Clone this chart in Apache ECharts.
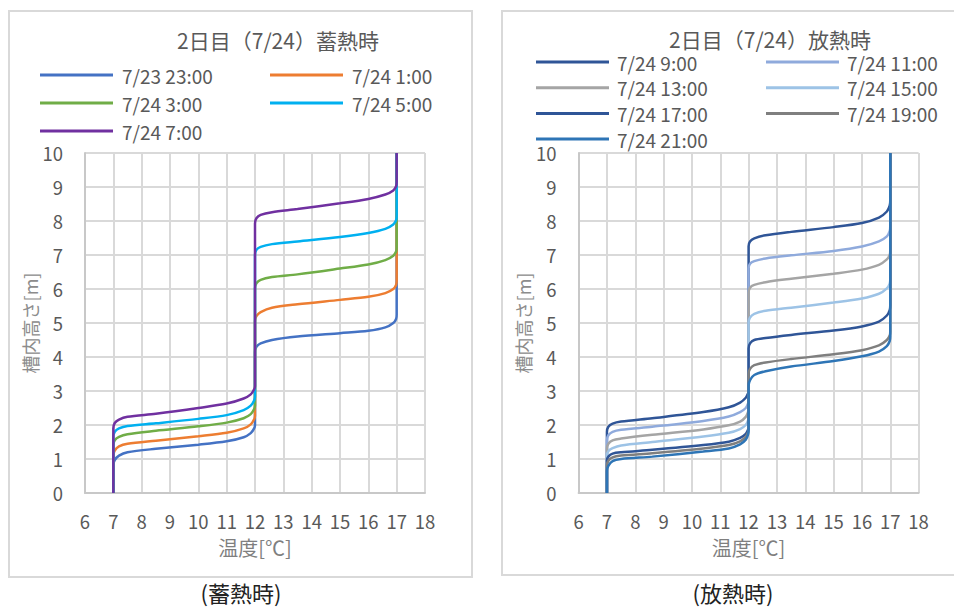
<!DOCTYPE html>
<html><head><meta charset="utf-8">
<script src="https://cdn.jsdelivr.net/npm/echarts@6/dist/echarts.min.js"></script>
<style>html,body{margin:0;padding:0;background:#fff}#c{width:954px;height:608px}</style>
</head><body><div id="c"></div>
<script>
// ---- data ----
const xTicks = [6,7,8,9,10,11,12,13,14,15,16,17,18];
const yTicks = [0,1,2,3,4,5,6,7,8,9,10];
const leftTitle = '2日目（7/24）蓄熱時';
const rightTitle = '2日目（7/24）放熱時';
const leftCaption = '(蓄熱時)';
const rightCaption = '(放熱時)';
const xName = '温度[℃]';
const yName = '槽内高さ[m]';

const chargeNames = ['7/23 23:00','7/24 1:00','7/24 3:00','7/24 5:00','7/24 7:00'];
const c2300 = [[7,0],[7,0.82],[7.05,0.97],[7.2,1.1],[7.5,1.2],[8.5,1.3],[10,1.42],[11,1.52],[11.6,1.64],[11.85,1.76],[11.97,1.9],[12,2.0],[12,4.15],[12.05,4.3],[12.2,4.4],[12.6,4.5],[13.5,4.6],[15,4.7],[16,4.77],[16.6,4.87],[16.88,5.0],[16.98,5.12],[17,5.25],[17,10]];
const c0100 = [[7,0],[7,1.1],[7.05,1.25],[7.2,1.37],[7.5,1.45],[8.5,1.54],[10,1.67],[11,1.77],[11.6,1.9],[11.85,2.02],[11.97,2.17],[12,2.28],[12,5.05],[12.05,5.2],[12.2,5.32],[12.6,5.45],[13.5,5.55],[15,5.68],[16,5.77],[16.6,5.88],[16.88,6.0],[16.98,6.12],[17,6.25],[17,10]];
const c0300 = [[7,0],[7,1.4],[7.05,1.55],[7.2,1.65],[7.5,1.73],[8.5,1.83],[10,1.96],[11,2.07],[11.6,2.2],[11.85,2.32],[11.97,2.47],[12,2.58],[12,6.02],[12.05,6.17],[12.2,6.27],[12.6,6.35],[13.5,6.43],[15,6.6],[16,6.72],[16.6,6.85],[16.88,6.98],[16.98,7.1],[17,7.22],[17,10]];
const c0500 = [[7,0],[7,1.65],[7.05,1.8],[7.2,1.9],[7.5,1.97],[8.5,2.05],[10,2.18],[11,2.29],[11.6,2.44],[11.85,2.57],[11.97,2.72],[12,2.85],[12,7.0],[12.05,7.15],[12.2,7.24],[12.6,7.32],[13.5,7.4],[15,7.53],[16,7.65],[16.6,7.77],[16.88,7.9],[16.98,8.02],[17,8.15],[17,10]];
const c0700 = [[7,0],[7,1.9],[7.05,2.06],[7.2,2.16],[7.5,2.24],[8.5,2.33],[10,2.5],[11,2.63],[11.6,2.78],[11.85,2.9],[11.97,3.05],[12,3.15],[12,7.93],[12.05,8.08],[12.2,8.18],[12.6,8.26],[13.5,8.35],[15,8.52],[16,8.65],[16.6,8.78],[16.88,8.9],[16.98,9.02],[17,9.15],[17,10]];
const chargeData = [c2300,c0100,c0300,c0500,c0700];
const chargeColors = ['#4472C4','#ED7D31','#70AD47','#00B0F0','#7030A0'];

const dischargeNames = ['7/24 9:00','7/24 11:00','7/24 13:00','7/24 15:00','7/24 17:00','7/24 19:00','7/24 21:00'];
const d0900 = [[7,0],[7,1.8],[7.05,1.95],[7.2,2.04],[7.5,2.1],[8.6,2.2],[10.4,2.38],[11.3,2.52],[11.7,2.66],[11.9,2.8],[11.98,2.93],[12,3.0],[12,7.26],[12.05,7.4],[12.2,7.49],[12.6,7.58],[13.5,7.68],[15,7.82],[16,7.94],[16.6,8.1],[16.88,8.28],[16.98,8.45],[17,8.6],[17,10]];
const d1100 = [[7,0],[7,1.55],[7.05,1.7],[7.2,1.8],[7.5,1.86],[8.6,1.95],[10.4,2.12],[11.3,2.25],[11.7,2.38],[11.9,2.5],[11.98,2.63],[12,2.7],[12,6.6],[12.05,6.74],[12.2,6.82],[12.6,6.9],[13.5,6.99],[15,7.12],[16,7.25],[16.6,7.4],[16.88,7.55],[16.98,7.7],[17,7.85],[17,10]];
const d1300 = [[7,0],[7,1.3],[7.05,1.45],[7.2,1.55],[7.5,1.6],[8.6,1.71],[10.4,1.87],[11.3,1.99],[11.7,2.1],[11.9,2.24],[11.98,2.38],[12,2.45],[12,5.9],[12.05,6.04],[12.2,6.12],[12.6,6.2],[13.5,6.3],[15,6.45],[16,6.57],[16.6,6.71],[16.88,6.87],[16.98,7.0],[17,7.15],[17,10]];
const d1500 = [[7,0],[7,1.1],[7.05,1.23],[7.2,1.32],[7.5,1.4],[8.6,1.5],[10.4,1.66],[11.3,1.77],[11.7,1.88],[11.9,2.0],[11.98,2.13],[12,2.2],[12,5.02],[12.05,5.16],[12.2,5.27],[12.6,5.36],[13.5,5.45],[15,5.6],[16,5.72],[16.6,5.86],[16.88,6.02],[16.98,6.16],[17,6.3],[17,10]];
const d1700 = [[7,0],[7,0.95],[7.05,1.07],[7.2,1.16],[7.5,1.2],[8.6,1.27],[10.4,1.41],[11.3,1.51],[11.7,1.62],[11.9,1.74],[11.98,1.86],[12,1.93],[12,4.25],[12.05,4.4],[12.2,4.5],[12.6,4.56],[13.5,4.65],[15,4.78],[16,4.9],[16.6,5.04],[16.88,5.22],[16.98,5.38],[17,5.52],[17,10]];
const d1900 = [[7,0],[7,0.8],[7.05,0.95],[7.2,1.05],[7.5,1.1],[8.6,1.17],[10.4,1.31],[11.3,1.41],[11.7,1.52],[11.9,1.65],[11.98,1.78],[12,1.85],[12,3.5],[12.05,3.65],[12.2,3.76],[12.6,3.84],[13.5,3.94],[15,4.08],[16,4.2],[16.6,4.34],[16.88,4.5],[16.98,4.63],[17,4.75],[17,10]];
const d2100 = [[7,0],[7,0.65],[7.05,0.8],[7.2,0.94],[7.5,1.0],[8.6,1.07],[10.4,1.22],[11.3,1.31],[11.7,1.43],[11.9,1.57],[11.98,1.72],[12,1.85],[12,3.15],[12.05,3.32],[12.2,3.47],[12.6,3.58],[13.5,3.72],[15,3.88],[16,4.02],[16.6,4.16],[16.88,4.32],[16.98,4.47],[17,4.6],[17,10]];
const dischargeData = [d0900,d1100,d1300,d1500,d1700,d1900,d2100];
const dischargeColors = ['#2F5597','#8FAADC','#A5A5A5','#9DC3E6','#2F5597','#7F7F7F','#2E75B6'];

// ---- chart ----
const FONT = '"Noto Sans CJK JP", "Noto Sans", sans-serif';
const TXT = '#595959';
const GRID = '#d9d9d9';
const chart = echarts.init(document.getElementById('c'), null, {renderer:'svg'});

function xAx(i){
  return {gridIndex:i, type:'value', min:xTicks[0], max:xTicks[xTicks.length-1], interval:1,
    name:xName, nameLocation:'middle', nameGap:44,
    nameTextStyle:{fontFamily:FONT, fontSize:20, color:'#7f7f7f'},
    axisLine:{show:true, lineStyle:{color:'#c8c8c8', width:2}}, axisTick:{show:false},
    axisLabel:{fontFamily:FONT, fontSize:18.5, color:TXT, margin:19},
    splitLine:{show:true, lineStyle:{color:GRID, width:2}}};
}
function yAx(i){
  return {gridIndex:i, type:'value', min:yTicks[0], max:yTicks[yTicks.length-1], interval:1,
    name:yName, nameLocation:'middle', nameGap:42,
    nameTextStyle:{fontFamily:FONT, fontSize:18, color:'#8c8c8c'},
    axisLine:{show:true, lineStyle:{color:'#c8c8c8', width:2}}, axisTick:{show:false},
    axisLabel:{fontFamily:FONT, fontSize:18.5, color:TXT, margin:22},
    splitLine:{show:true, lineStyle:{color:GRID, width:2}}};
}
const series = [];
chargeNames.forEach((n,i)=>series.push({name:n, type:'line', xAxisIndex:0, yAxisIndex:0, data:chargeData[i],
  showSymbol:false, symbol:'none', smooth:0.3, color:chargeColors[i], lineStyle:{width:2.5, color:chargeColors[i]}}));
dischargeNames.forEach((n,i)=>series.push({name:n, type:'line', xAxisIndex:1, yAxisIndex:1, data:dischargeData[i],
  showSymbol:false, symbol:'none', smooth:0.3, color:dischargeColors[i], lineStyle:{width:2.5, color:dischargeColors[i]}}));

function leg(names, left, top, gap, pad){
  return {data:names, left:left, top:top, orient:'vertical', itemGap:gap, itemWidth:73, itemHeight:3,
    icon:'rect', selectedMode:false, padding:0,
    textStyle:{fontFamily:FONT, fontSize:19, color:TXT, lineHeight:20, padding:[0,0,0,pad]}};
}

chart.setOption({
  animation:false,
  backgroundColor:'#fff',
  grid:[{left:85, top:153, width:340, height:340},{left:578.6, top:153, width:340, height:340}],
  xAxis:[xAx(0), xAx(1)],
  yAxis:[yAx(0), yAx(1)],
  legend:[
    leg([chargeNames[0],chargeNames[2],chargeNames[4]], 40, 65, 8, 4),
    leg([chargeNames[1],chargeNames[3]], 270, 65, 8, 4),
    leg([dischargeNames[0],dischargeNames[2],dischargeNames[4],dischargeNames[6]], 536, 52, 5.7, 3),
    leg([dischargeNames[1],dischargeNames[3],dischargeNames[5]], 766, 52, 5.7, 3)
  ],
  series:series,
  graphic:[
    {type:'rect', z:-10, shape:{x:9, y:11, width:463, height:566}, style:{fill:null, stroke:'#d9d9d9', lineWidth:2}},
    {type:'rect', z:-10, shape:{x:502, y:11, width:460, height:564}, style:{fill:null, stroke:'#d9d9d9', lineWidth:2}},
    {type:'text', x:278, y:40, style:{text:leftTitle, fill:TXT, font:'21px '+FONT, textAlign:'center', textVerticalAlign:'middle'}},
    {type:'text', x:770, y:39, style:{text:rightTitle, fill:TXT, font:'21px '+FONT, textAlign:'center', textVerticalAlign:'middle'}},
    {type:'text', x:241, y:592, style:{text:leftCaption, fill:'#222', font:'22px '+FONT, textAlign:'center', textVerticalAlign:'middle'}},
    {type:'text', x:733, y:592, style:{text:rightCaption, fill:'#222', font:'22px '+FONT, textAlign:'center', textVerticalAlign:'middle'}}
  ]
});
</script></body></html>
